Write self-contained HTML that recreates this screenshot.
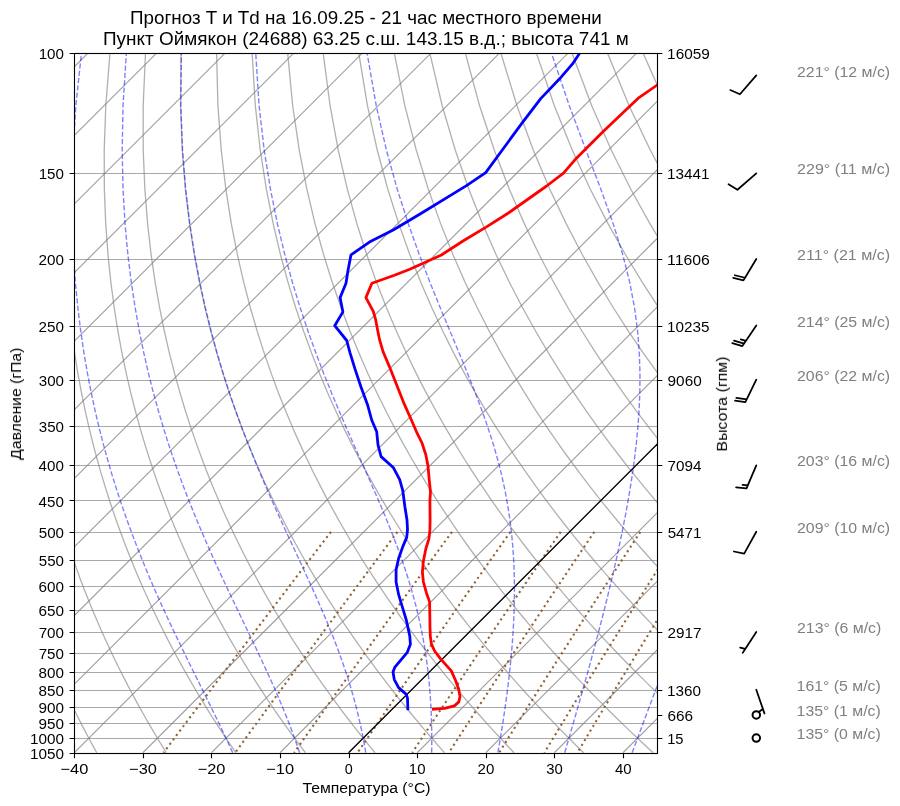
<!DOCTYPE html>
<html lang="ru"><head><meta charset="utf-8"><title>Skew-T</title>
<style>
html,body{margin:0;padding:0;background:#fff;}
body{width:900px;height:806px;overflow:hidden;position:relative;font-family:"Liberation Sans",sans-serif;}
svg text{font-family:"Liberation Sans",sans-serif;}
</style></head><body>
<svg width="900" height="806" viewBox="0 0 900 806" style="position:absolute;left:0;top:0;display:block" font-family="'Liberation Sans', sans-serif">
<rect x="0" y="0" width="900" height="806" fill="#ffffff"/>
<defs><clipPath id="ax"><rect x="74" y="53" width="583" height="700"/></clipPath></defs>
<g clip-path="url(#ax)" fill="none">
<path d="M74.3 53.5H657.3M74.3 173.5H657.3M74.3 259.5H657.3M74.3 326.5H657.3M74.3 380.5H657.3M74.3 426.5H657.3M74.3 465.5H657.3M74.3 500.5H657.3M74.3 532.5H657.3M74.3 560.5H657.3M74.3 586.5H657.3M74.3 610.5H657.3M74.3 632.5H657.3M74.3 653.5H657.3M74.3 672.5H657.3M74.3 690.5H657.3M74.3 707.5H657.3M74.3 723.5H657.3M74.3 738.5H657.3M74.3 753.5H657.3" stroke="#aaaaaa" stroke-width="1.11"/>
<path id="isot" d="M-680.17 752.73L19.83 52.73M-611.58 752.73L88.42 52.73M-542.99 752.73L157.01 52.73M-474.41 752.73L225.59 52.73M-405.82 752.73L294.18 52.73M-337.23 752.73L362.77 52.73M-268.64 752.73L431.36 52.73M-200.05 752.73L499.95 52.73M-131.46 752.73L568.54 52.73M-62.88 752.73L637.12 52.73M5.71 752.73L705.71 52.73M74.3 752.73L774.3 52.73M142.89 752.73L842.89 52.73M211.48 752.73L911.48 52.73M280.06 752.73L980.06 52.73M348.65 752.73L1048.65 52.73M417.24 752.73L1117.24 52.73M485.83 752.73L1185.83 52.73M554.42 752.73L1254.42 52.73M623.01 752.73L1323.01 52.73" stroke="#808080" stroke-width="1.11" stroke-opacity="0.78"/>
<path id="dry" d="M96.75 752.73 L93.68 747.18 L90.61 741.53 L87.52 735.77 L84.43 729.89 L81.32 723.89 L78.2 717.77 L75.08 711.53 L71.94 705.15 L68.8 698.63 L65.65 691.96 L62.49 685.14 L59.32 678.16 L56.15 671.02 L52.97 663.69 L49.79 656.19 L46.61 648.48 L43.42 640.58 L40.24 632.46 L37.06 624.11 L33.88 615.52 L30.71 606.67 L27.55 597.56 L24.4 588.15 L21.26 578.44 L18.15 568.4 L15.06 558.01 L12 547.25 L8.97 536.08 L5.99 524.48 L3.05 512.4 L0.18 499.82 L-2.62 486.67 L-5.34 472.93 L-7.96 458.51 L-10.46 443.37 L-12.81 427.41 L-15 410.54 L-16.99 392.67 L-18.73 373.65 L-20.17 353.33 L-21.26 331.52 L-21.9 307.99 L-21.98 282.44 L-21.36 254.49 L-19.84 223.63 L-17.13 189.21 L-12.83 150.28 L-6.3 105.48 L3.43 52.73M166.3 752.73 L162.87 747.18 L159.42 741.53 L155.95 735.77 L152.47 729.89 L148.97 723.89 L145.46 717.77 L141.93 711.53 L138.39 705.15 L134.83 698.63 L131.26 691.96 L127.67 685.14 L124.07 678.16 L120.45 671.02 L116.83 663.69 L113.19 656.19 L109.54 648.48 L105.88 640.58 L102.21 632.46 L98.53 624.11 L94.85 615.52 L91.16 606.67 L87.47 597.56 L83.79 588.15 L80.1 578.44 L76.42 568.4 L72.75 558.01 L69.1 547.25 L65.46 536.08 L61.85 524.48 L58.28 512.4 L54.74 499.82 L51.26 486.67 L47.83 472.93 L44.48 458.51 L41.23 443.37 L38.09 427.41 L35.08 410.54 L32.24 392.67 L29.61 373.65 L27.23 353.33 L25.16 331.52 L23.49 307.99 L22.31 282.44 L21.75 254.49 L22.02 223.63 L23.37 189.21 L26.19 150.28 L31.07 105.48 L38.96 52.73M235.85 752.73 L232.05 747.18 L228.22 741.53 L224.38 735.77 L220.51 729.89 L216.63 723.89 L212.72 717.77 L208.79 711.53 L204.84 705.15 L200.86 698.63 L196.87 691.96 L192.85 685.14 L188.82 678.16 L184.76 671.02 L180.68 663.69 L176.58 656.19 L172.47 648.48 L168.33 640.58 L164.18 632.46 L160.01 624.11 L155.82 615.52 L151.62 606.67 L147.4 597.56 L143.17 588.15 L138.94 578.44 L134.7 568.4 L130.45 558.01 L126.2 547.25 L121.96 536.08 L117.72 524.48 L113.5 512.4 L109.3 499.82 L105.13 486.67 L101 472.93 L96.93 458.51 L92.91 443.37 L88.98 427.41 L85.16 410.54 L81.47 392.67 L77.95 373.65 L74.64 353.33 L71.59 331.52 L68.88 307.99 L66.59 282.44 L64.87 254.49 L63.88 223.63 L63.87 189.21 L65.2 150.28 L68.44 105.48 L74.48 52.73M305.4 752.73 L301.23 747.18 L297.03 741.53 L292.81 735.77 L288.56 729.89 L284.28 723.89 L279.97 717.77 L275.64 711.53 L271.28 705.15 L266.89 698.63 L262.48 691.96 L258.04 685.14 L253.56 678.16 L249.06 671.02 L244.54 663.69 L239.98 656.19 L235.4 648.48 L230.78 640.58 L226.15 632.46 L221.48 624.11 L216.79 615.52 L212.07 606.67 L207.33 597.56 L202.56 588.15 L197.78 578.44 L192.97 568.4 L188.14 558.01 L183.3 547.25 L178.45 536.08 L173.59 524.48 L168.73 512.4 L163.86 499.82 L159.01 486.67 L154.18 472.93 L149.37 458.51 L144.6 443.37 L139.88 427.41 L135.24 410.54 L130.7 392.67 L126.29 373.65 L122.04 353.33 L118.01 331.52 L114.26 307.99 L110.88 282.44 L107.98 254.49 L105.73 223.63 L104.36 189.21 L104.21 150.28 L105.81 105.48 L110.01 52.73M374.95 752.73 L370.41 747.18 L365.84 741.53 L361.24 735.77 L356.6 729.89 L351.93 723.89 L347.23 717.77 L342.5 711.53 L337.73 705.15 L332.93 698.63 L328.09 691.96 L323.22 685.14 L318.31 678.16 L313.37 671.02 L308.39 663.69 L303.38 656.19 L298.33 648.48 L293.24 640.58 L288.11 632.46 L282.95 624.11 L277.76 615.52 L272.52 606.67 L267.26 597.56 L261.95 588.15 L256.61 578.44 L251.24 568.4 L245.84 558.01 L240.41 547.25 L234.95 536.08 L229.46 524.48 L223.95 512.4 L218.43 499.82 L212.89 486.67 L207.35 472.93 L201.81 458.51 L196.28 443.37 L190.78 427.41 L185.32 410.54 L179.93 392.67 L174.63 373.65 L169.45 353.33 L164.44 331.52 L159.65 307.99 L155.17 282.44 L151.1 254.49 L147.59 223.63 L144.86 189.21 L143.22 150.28 L143.18 105.48 L145.53 52.73M444.5 752.73 L439.59 747.18 L434.65 741.53 L429.66 735.77 L424.64 729.89 L419.58 723.89 L414.49 717.77 L409.35 711.53 L404.17 705.15 L398.96 698.63 L393.7 691.96 L388.4 685.14 L383.06 678.16 L377.67 671.02 L372.24 663.69 L366.77 656.19 L361.25 648.48 L355.69 640.58 L350.08 632.46 L344.43 624.11 L338.73 615.52 L332.98 606.67 L327.18 597.56 L321.34 588.15 L315.45 578.44 L309.52 568.4 L303.54 558.01 L297.51 547.25 L291.44 536.08 L285.33 524.48 L279.18 512.4 L272.99 499.82 L266.77 486.67 L260.52 472.93 L254.25 458.51 L247.97 443.37 L241.68 427.41 L235.41 410.54 L229.16 392.67 L222.97 373.65 L216.85 353.33 L210.86 331.52 L205.04 307.99 L199.46 282.44 L194.22 254.49 L189.45 223.63 L185.36 189.21 L182.23 150.28 L180.55 105.48 L181.06 52.73M514.05 752.73 L508.77 747.18 L503.45 741.53 L498.09 735.77 L492.69 729.89 L487.24 723.89 L481.74 717.77 L476.21 711.53 L470.62 705.15 L464.99 698.63 L459.31 691.96 L453.58 685.14 L447.81 678.16 L441.98 671.02 L436.1 663.69 L430.17 656.19 L424.18 648.48 L418.15 640.58 L412.05 632.46 L405.9 624.11 L399.7 615.52 L393.43 606.67 L387.11 597.56 L380.73 588.15 L374.29 578.44 L367.79 568.4 L361.23 558.01 L354.61 547.25 L347.93 536.08 L341.2 524.48 L334.4 512.4 L327.55 499.82 L320.64 486.67 L313.69 472.93 L306.69 458.51 L299.65 443.37 L292.58 427.41 L285.49 410.54 L278.39 392.67 L271.31 373.65 L264.26 353.33 L257.28 331.52 L250.42 307.99 L243.74 282.44 L237.33 254.49 L231.31 223.63 L225.85 189.21 L221.25 150.28 L217.92 105.48 L216.58 52.73M583.61 752.73 L577.96 747.18 L572.26 741.53 L566.52 735.77 L560.73 729.89 L554.89 723.89 L549 717.77 L543.06 711.53 L537.07 705.15 L531.02 698.63 L524.92 691.96 L518.77 685.14 L512.55 678.16 L506.28 671.02 L499.95 663.69 L493.56 656.19 L487.11 648.48 L480.6 640.58 L474.02 632.46 L467.38 624.11 L460.67 615.52 L453.89 606.67 L447.04 597.56 L440.12 588.15 L433.13 578.44 L426.06 568.4 L418.93 558.01 L411.72 547.25 L404.43 536.08 L397.06 524.48 L389.62 512.4 L382.11 499.82 L374.52 486.67 L366.86 472.93 L359.13 458.51 L351.33 443.37 L343.48 427.41 L335.57 410.54 L327.62 392.67 L319.64 373.65 L311.66 353.33 L303.71 331.52 L295.81 307.99 L288.03 282.44 L280.45 254.49 L273.16 223.63 L266.35 189.21 L260.26 150.28 L255.29 105.48 L252.11 52.73M653.16 752.73 L647.14 747.18 L641.07 741.53 L634.95 735.77 L628.77 729.89 L622.54 723.89 L616.26 717.77 L609.91 711.53 L603.51 705.15 L597.05 698.63 L590.53 691.96 L583.95 685.14 L577.3 678.16 L570.59 671.02 L563.81 663.69 L556.96 656.19 L550.04 648.48 L543.05 640.58 L535.99 632.46 L528.85 624.11 L521.64 615.52 L514.34 606.67 L506.97 597.56 L499.51 588.15 L491.97 578.44 L484.34 568.4 L476.62 558.01 L468.82 547.25 L460.92 536.08 L452.93 524.48 L444.85 512.4 L436.67 499.82 L428.4 486.67 L420.03 472.93 L411.57 458.51 L403.02 443.37 L394.38 427.41 L385.65 410.54 L376.85 392.67 L367.98 373.65 L359.07 353.33 L350.13 331.52 L341.2 307.99 L332.32 282.44 L323.56 254.49 L315.02 223.63 L306.85 189.21 L299.27 150.28 L292.66 105.48 L287.63 52.73M722.71 752.73 L716.32 747.18 L709.88 741.53 L703.37 735.77 L696.81 729.89 L690.19 723.89 L683.51 717.77 L676.77 711.53 L669.96 705.15 L663.08 698.63 L656.14 691.96 L649.13 685.14 L642.05 678.16 L634.89 671.02 L627.66 663.69 L620.36 656.19 L612.97 648.48 L605.51 640.58 L597.96 632.46 L590.32 624.11 L582.6 615.52 L574.79 606.67 L566.89 597.56 L558.9 588.15 L550.8 578.44 L542.61 568.4 L534.32 558.01 L525.92 547.25 L517.42 536.08 L508.8 524.48 L500.07 512.4 L491.23 499.82 L482.28 486.67 L473.2 472.93 L464.01 458.51 L454.7 443.37 L445.27 427.41 L435.73 410.54 L426.08 392.67 L416.32 373.65 L406.48 353.33 L396.55 331.52 L386.59 307.99 L376.61 282.44 L366.68 254.49 L356.88 223.63 L347.34 189.21 L338.28 150.28 L330.03 105.48 L323.16 52.73M792.26 752.73 L785.5 747.18 L778.68 741.53 L771.8 735.77 L764.86 729.89 L757.85 723.89 L750.77 717.77 L743.62 711.53 L736.41 705.15 L729.12 698.63 L721.75 691.96 L714.31 685.14 L706.8 678.16 L699.2 671.02 L691.52 663.69 L683.75 656.19 L675.9 648.48 L667.96 640.58 L659.93 632.46 L651.8 624.11 L643.57 615.52 L635.25 606.67 L626.82 597.56 L618.29 588.15 L609.64 578.44 L600.89 568.4 L592.01 558.01 L583.02 547.25 L573.91 536.08 L564.67 524.48 L555.3 512.4 L545.79 499.82 L536.15 486.67 L526.38 472.93 L516.45 458.51 L506.39 443.37 L496.17 427.41 L485.81 410.54 L475.31 392.67 L464.66 373.65 L453.88 353.33 L442.98 331.52 L431.97 307.99 L420.89 282.44 L409.79 254.49 L398.74 223.63 L387.84 189.21 L377.29 150.28 L367.4 105.48 L358.69 52.73M861.81 752.73 L854.68 747.18 L847.49 741.53 L840.23 735.77 L832.9 729.89 L825.5 723.89 L818.03 717.77 L810.48 711.53 L802.85 705.15 L795.15 698.63 L787.36 691.96 L779.5 685.14 L771.54 678.16 L763.5 671.02 L755.37 663.69 L747.15 656.19 L738.83 648.48 L730.41 640.58 L721.9 632.46 L713.27 624.11 L704.54 615.52 L695.7 606.67 L686.75 597.56 L677.68 588.15 L668.48 578.44 L659.16 568.4 L649.71 558.01 L640.13 547.25 L630.4 536.08 L620.54 524.48 L610.52 512.4 L600.36 499.82 L590.03 486.67 L579.55 472.93 L568.89 458.51 L558.07 443.37 L547.07 427.41 L535.89 410.54 L524.54 392.67 L513 373.65 L501.29 353.33 L489.4 331.52 L477.36 307.99 L465.18 282.44 L452.91 254.49 L440.59 223.63 L428.34 189.21 L416.3 150.28 L404.77 105.48 L394.21 52.73M931.36 752.73 L923.86 747.18 L916.3 741.53 L908.66 735.77 L900.94 729.89 L893.15 723.89 L885.28 717.77 L877.33 711.53 L869.3 705.15 L861.18 698.63 L852.97 691.96 L844.68 685.14 L836.29 678.16 L827.81 671.02 L819.23 663.69 L810.55 656.19 L801.76 648.48 L792.87 640.58 L783.86 632.46 L774.75 624.11 L765.51 615.52 L756.16 606.67 L746.68 597.56 L737.06 588.15 L727.32 578.44 L717.43 568.4 L707.41 558.01 L697.23 547.25 L686.9 536.08 L676.4 524.48 L665.75 512.4 L654.92 499.82 L643.91 486.67 L632.72 472.93 L621.33 458.51 L609.75 443.37 L597.97 427.41 L585.98 410.54 L573.77 392.67 L561.34 373.65 L548.69 353.33 L535.83 331.52 L522.75 307.99 L509.47 282.44 L496.02 254.49 L482.45 223.63 L468.84 189.21 L455.32 150.28 L442.14 105.48 L429.74 52.73M1000.91 752.73 L993.05 747.18 L985.11 741.53 L977.09 735.77 L968.99 729.89 L960.8 723.89 L952.54 717.77 L944.19 711.53 L935.74 705.15 L927.21 698.63 L918.58 691.96 L909.86 685.14 L901.04 678.16 L892.11 671.02 L883.08 663.69 L873.94 656.19 L864.69 648.48 L855.32 640.58 L845.83 632.46 L836.22 624.11 L826.48 615.52 L816.61 606.67 L806.6 597.56 L796.45 588.15 L786.16 578.44 L775.71 568.4 L765.1 558.01 L754.33 547.25 L743.39 536.08 L732.27 524.48 L720.97 512.4 L709.48 499.82 L697.79 486.67 L685.89 472.93 L673.78 458.51 L661.44 443.37 L648.87 427.41 L636.06 410.54 L623 392.67 L609.68 373.65 L596.1 353.33 L582.25 331.52 L568.13 307.99 L553.76 282.44 L539.14 254.49 L524.31 223.63 L509.33 189.21 L494.33 150.28 L479.51 105.48 L465.26 52.73M1070.46 752.73 L1062.23 747.18 L1053.91 741.53 L1045.51 735.77 L1037.03 729.89 L1028.46 723.89 L1019.8 717.77 L1011.04 711.53 L1002.19 705.15 L993.24 698.63 L984.2 691.96 L975.04 685.14 L965.79 678.16 L956.42 671.02 L946.94 663.69 L937.34 656.19 L927.62 648.48 L917.77 640.58 L907.8 632.46 L897.7 624.11 L887.45 615.52 L877.07 606.67 L866.53 597.56 L855.84 588.15 L844.99 578.44 L833.98 568.4 L822.8 558.01 L811.43 547.25 L799.88 536.08 L788.14 524.48 L776.2 512.4 L764.04 499.82 L751.67 486.67 L739.06 472.93 L726.22 458.51 L713.12 443.37 L699.77 427.41 L686.14 410.54 L672.23 392.67 L658.02 373.65 L643.5 353.33 L628.67 331.52 L613.52 307.99 L598.04 282.44 L582.25 254.49 L566.16 223.63 L549.83 189.21 L533.34 150.28 L516.88 105.48 L500.79 52.73M1140.01 752.73 L1131.41 747.18 L1122.72 741.53 L1113.94 735.77 L1105.07 729.89 L1096.11 723.89 L1087.05 717.77 L1077.89 711.53 L1068.64 705.15 L1059.28 698.63 L1049.81 691.96 L1040.23 685.14 L1030.53 678.16 L1020.72 671.02 L1010.79 663.69 L1000.73 656.19 L990.55 648.48 L980.23 640.58 L969.77 632.46 L959.17 624.11 L948.42 615.52 L937.52 606.67 L926.46 597.56 L915.23 588.15 L903.83 578.44 L892.26 568.4 L880.49 558.01 L868.54 547.25 L856.38 536.08 L844.01 524.48 L831.42 512.4 L818.6 499.82 L805.54 486.67 L792.23 472.93 L778.66 458.51 L764.81 443.37 L750.67 427.41 L736.22 410.54 L721.46 392.67 L706.36 373.65 L690.91 353.33 L675.1 331.52 L658.91 307.99 L642.33 282.44 L625.37 254.49 L608.02 223.63 L590.33 189.21 L572.35 150.28 L554.25 105.48 L536.31 52.73M1209.56 752.73 L1200.59 747.18 L1191.53 741.53 L1182.37 735.77 L1173.11 729.89 L1163.76 723.89 L1154.31 717.77 L1144.75 711.53 L1135.08 705.15 L1125.31 698.63 L1115.42 691.96 L1105.41 685.14 L1095.28 678.16 L1085.03 671.02 L1074.65 663.69 L1064.13 656.19 L1053.48 648.48 L1042.68 640.58 L1031.74 632.46 L1020.64 624.11 L1009.39 615.52 L997.97 606.67 L986.39 597.56 L974.62 588.15 L962.67 578.44 L950.53 568.4 L938.19 558.01 L925.64 547.25 L912.87 536.08 L899.88 524.48 L886.65 512.4 L873.16 499.82 L859.42 486.67 L845.4 472.93 L831.1 458.51 L816.49 443.37 L801.56 427.41 L786.3 410.54 L770.68 392.67 L754.7 373.65 L738.31 353.33 L721.52 331.52 L704.29 307.99 L686.62 282.44 L668.48 254.49 L649.88 223.63 L630.82 189.21 L611.36 150.28 L591.62 105.48 L571.84 52.73M1279.12 752.73 L1269.77 747.18 L1260.33 741.53 L1250.8 735.77 L1241.16 729.89 L1231.41 723.89 L1221.56 717.77 L1211.6 711.53 L1201.53 705.15 L1191.34 698.63 L1181.03 691.96 L1170.59 685.14 L1160.03 678.16 L1149.33 671.02 L1138.5 663.69 L1127.53 656.19 L1116.41 648.48 L1105.14 640.58 L1093.71 632.46 L1082.12 624.11 L1070.36 615.52 L1058.43 606.67 L1046.31 597.56 L1034.01 588.15 L1021.51 578.44 L1008.8 568.4 L995.88 558.01 L982.74 547.25 L969.37 536.08 L955.75 524.48 L941.87 512.4 L927.73 499.82 L913.3 486.67 L898.58 472.93 L883.54 458.51 L868.17 443.37 L852.46 427.41 L836.38 410.54 L819.91 392.67 L803.03 373.65 L785.72 353.33 L767.94 331.52 L749.68 307.99 L730.91 282.44 L711.6 254.49 L691.74 223.63 L671.32 189.21 L650.38 150.28 L628.99 105.48 L607.36 52.73M1348.67 752.73 L1338.95 747.18 L1329.14 741.53 L1319.22 735.77 L1309.2 729.89 L1299.07 723.89 L1288.82 717.77 L1278.46 711.53 L1267.98 705.15 L1257.37 698.63 L1246.64 691.96 L1235.77 685.14 L1224.78 678.16 L1213.64 671.02 L1202.35 663.69 L1190.92 656.19 L1179.34 648.48 L1167.59 640.58 L1155.68 632.46 L1143.59 624.11 L1131.33 615.52 L1118.88 606.67 L1106.24 597.56 L1093.4 588.15 L1080.35 578.44 L1067.08 568.4 L1053.58 558.01 L1039.84 547.25 L1025.86 536.08 L1011.61 524.48 L997.09 512.4 L982.29 499.82 L967.18 486.67 L951.75 472.93 L935.98 458.51 L919.86 443.37 L903.36 427.41 L886.46 410.54 L869.14 392.67 L851.37 373.65 L833.12 353.33 L814.37 331.52 L795.07 307.99 L775.19 282.44 L754.71 254.49 L733.59 223.63 L711.82 189.21 L689.39 150.28 L666.36 105.48 L642.89 52.73" stroke="#808080" stroke-width="1.3" stroke-opacity="0.62"/>
<path id="moist" d="M232.7 752.73 L230.17 747.18 L227.55 741.53 L224.85 735.77 L222.07 729.89 L219.19 723.89 L216.23 717.77 L213.19 711.53 L210.06 705.15 L206.84 698.63 L203.55 691.96 L200.17 685.14 L196.7 678.16 L193.17 671.02 L189.55 663.69 L185.86 656.19 L182.11 648.48 L178.28 640.58 L174.39 632.46 L170.44 624.11 L166.44 615.52 L162.38 606.67 L158.27 597.56 L154.12 588.15 L149.93 578.44 L145.71 568.4 L141.46 558.01 L137.19 547.25 L132.9 536.08 L128.6 524.48 L124.3 512.4 L120.01 499.82 L115.73 486.67 L111.48 472.93 L107.28 458.51 L103.13 443.37 L99.05 427.41 L95.07 410.54 L91.22 392.67 L87.52 373.65 L84.02 353.33 L80.78 331.52 L77.87 307.99 L75.37 282.44 L73.41 254.49 L72.17 223.63 L71.89 189.21 L72.93 150.28 L75.84 105.48 L81.52 52.73M299.62 752.73 L297.75 747.18 L295.78 741.53 L293.7 735.77 L291.52 729.89 L289.24 723.89 L286.84 717.77 L284.32 711.53 L281.69 705.15 L278.93 698.63 L276.05 691.96 L273.05 685.14 L269.92 678.16 L266.66 671.02 L263.27 663.69 L259.75 656.19 L256.11 648.48 L252.33 640.58 L248.44 632.46 L244.42 624.11 L240.28 615.52 L236.03 606.67 L231.67 597.56 L227.21 588.15 L222.65 578.44 L218 568.4 L213.26 558.01 L208.45 547.25 L203.57 536.08 L198.63 524.48 L193.64 512.4 L188.61 499.82 L183.55 486.67 L178.47 472.93 L173.39 458.51 L168.32 443.37 L163.28 427.41 L158.29 410.54 L153.37 392.67 L148.56 373.65 L143.89 353.33 L139.41 331.52 L135.19 307.99 L131.3 282.44 L127.86 254.49 L125.03 223.63 L123.03 189.21 L122.2 150.28 L123.03 105.48 L126.39 52.73M365.76 752.73 L364.83 747.18 L363.81 741.53 L362.7 735.77 L361.5 729.89 L360.21 723.89 L358.81 717.77 L357.3 711.53 L355.67 705.15 L353.92 698.63 L352.04 691.96 L350.01 685.14 L347.84 678.16 L345.52 671.02 L343.03 663.69 L340.37 656.19 L337.54 648.48 L334.52 640.58 L331.31 632.46 L327.9 624.11 L324.29 615.52 L320.48 606.67 L316.47 597.56 L312.25 588.15 L307.83 578.44 L303.2 568.4 L298.38 558.01 L293.37 547.25 L288.18 536.08 L282.82 524.48 L277.31 512.4 L271.65 499.82 L265.85 486.67 L259.95 472.93 L253.95 458.51 L247.88 443.37 L241.75 427.41 L235.59 410.54 L229.42 392.67 L223.28 373.65 L217.2 353.33 L211.22 331.52 L205.41 307.99 L199.83 282.44 L194.58 254.49 L189.8 223.63 L185.7 189.21 L182.57 150.28 L180.86 105.48 L181.36 52.73M431.66 752.73 L431.74 747.18 L431.77 741.53 L431.75 735.77 L431.69 729.89 L431.57 723.89 L431.39 717.77 L431.15 711.53 L430.83 705.15 L430.44 698.63 L429.96 691.96 L429.39 685.14 L428.72 678.16 L427.93 671.02 L427.02 663.69 L425.98 656.19 L424.79 648.48 L423.43 640.58 L421.91 632.46 L420.19 624.11 L418.27 615.52 L416.12 606.67 L413.72 597.56 L411.06 588.15 L408.12 578.44 L404.88 568.4 L401.32 558.01 L397.42 547.25 L393.17 536.08 L388.56 524.48 L383.57 512.4 L378.22 499.82 L372.5 486.67 L366.42 472.93 L360 458.51 L353.27 443.37 L346.24 427.41 L338.96 410.54 L331.46 392.67 L323.79 373.65 L316 353.33 L308.13 331.52 L300.25 307.99 L292.44 282.44 L284.77 254.49 L277.39 223.63 L270.45 189.21 L264.21 150.28 L259.07 105.48 L255.71 52.73M497.88 752.73 L498.84 747.18 L499.8 741.53 L500.76 735.77 L501.71 729.89 L502.65 723.89 L503.59 717.77 L504.52 711.53 L505.43 705.15 L506.33 698.63 L507.21 691.96 L508.07 685.14 L508.9 678.16 L509.7 671.02 L510.47 663.69 L511.19 656.19 L511.87 648.48 L512.49 640.58 L513.05 632.46 L513.53 624.11 L513.92 615.52 L514.22 606.67 L514.4 597.56 L514.45 588.15 L514.34 578.44 L514.06 568.4 L513.57 558.01 L512.84 547.25 L511.85 536.08 L510.53 524.48 L508.86 512.4 L506.77 499.82 L504.2 486.67 L501.1 472.93 L497.39 458.51 L493.01 443.37 L487.89 427.41 L481.98 410.54 L475.25 392.67 L467.68 373.65 L459.3 353.33 L450.16 331.52 L440.35 307.99 L430 282.44 L419.25 254.49 L408.27 223.63 L397.25 189.21 L386.44 150.28 L376.2 105.48 L367.06 52.73M564.69 752.73 L566.32 747.18 L567.97 741.53 L569.65 735.77 L571.36 729.89 L573.09 723.89 L574.86 717.77 L576.65 711.53 L578.47 705.15 L580.32 698.63 L582.21 691.96 L584.12 685.14 L586.07 678.16 L588.05 671.02 L590.06 663.69 L592.1 656.19 L594.18 648.48 L596.29 640.58 L598.43 632.46 L600.6 624.11 L602.81 615.52 L605.05 606.67 L607.31 597.56 L609.6 588.15 L611.92 578.44 L614.25 568.4 L616.6 558.01 L618.95 547.25 L621.31 536.08 L623.65 524.48 L625.97 512.4 L628.24 499.82 L630.45 486.67 L632.56 472.93 L634.53 458.51 L636.33 443.37 L637.87 427.41 L639.07 410.54 L639.82 392.67 L639.98 373.65 L639.33 353.33 L637.64 331.52 L634.57 307.99 L629.74 282.44 L622.73 254.49 L613.16 223.63 L600.87 189.21 L586.03 150.28 L569.23 105.48 L551.35 52.73M632.12 752.73 L634.19 747.18 L636.29 741.53 L638.44 735.77 L640.64 729.89 L642.88 723.89 L645.17 717.77 L647.51 711.53 L649.91 705.15 L652.36 698.63 L654.87 691.96 L657.44 685.14 L660.08 678.16 L662.77 671.02 L665.54 663.69 L668.38 656.19 L671.3 648.48 L674.29 640.58 L677.37 632.46 L680.54 624.11 L683.8 615.52 L687.15 606.67 L690.61 597.56 L694.18 588.15 L697.86 578.44 L701.66 568.4 L705.59 558.01 L709.66 547.25 L713.87 536.08 L718.24 524.48 L722.77 512.4 L727.47 499.82 L732.37 486.67 L737.46 472.93 L742.77 458.51 L748.3 443.37 L754.09 427.41 L760.13 410.54 L766.45 392.67 L773.07 373.65 L780 353.33 L787.24 331.52 L794.8 307.99 L802.66 282.44 L810.75 254.49 L818.96 223.63 L827 189.21 L834.33 150.28 L839.82 105.48 L841.04 52.73" stroke="#0000ff" stroke-opacity="0.5" stroke-width="1.39" stroke-dasharray="5.14 2.22"/>
<path id="mix" d="M330.91 531.86 L326.56 537.52 L322.23 543.18 L317.89 548.85 L313.56 554.51 L309.22 560.17 L304.9 565.84 L300.57 571.5 L296.24 577.16 L291.92 582.83 L287.6 588.49 L283.29 594.15 L278.97 599.82 L274.66 605.48 L270.35 611.14 L266.05 616.81 L261.74 622.47 L257.44 628.13 L253.14 633.8 L248.85 639.46 L244.55 645.13 L240.26 650.79 L235.97 656.45 L231.69 662.12 L227.41 667.78 L223.12 673.44 L218.85 679.11 L214.57 684.77 L210.3 690.43 L206.03 696.1 L201.76 701.76 L197.5 707.42 L193.23 713.09 L188.97 718.75 L184.72 724.41 L180.46 730.08 L176.21 735.74 L171.96 741.4 L167.72 747.07 L163.47 752.73M397.42 531.86 L393.2 537.52 L388.99 543.18 L384.78 548.85 L380.57 554.51 L376.37 560.17 L372.17 565.84 L367.97 571.5 L363.77 577.16 L359.58 582.83 L355.39 588.49 L351.2 594.15 L347.02 599.82 L342.84 605.48 L338.66 611.14 L334.48 616.81 L330.31 622.47 L326.14 628.13 L321.98 633.8 L317.81 639.46 L313.65 645.13 L309.49 650.79 L305.34 656.45 L301.19 662.12 L297.04 667.78 L292.89 673.44 L288.75 679.11 L284.61 684.77 L280.47 690.43 L276.34 696.1 L272.21 701.76 L268.08 707.42 L263.96 713.09 L259.83 718.75 L255.72 724.41 L251.6 730.08 L247.49 735.74 L243.38 741.4 L239.27 747.07 L235.17 752.73M451.92 531.86 L447.81 537.52 L443.7 543.18 L439.6 548.85 L435.5 554.51 L431.41 560.17 L427.31 565.84 L423.23 571.5 L419.14 577.16 L415.06 582.83 L410.98 588.49 L406.9 594.15 L402.83 599.82 L398.76 605.48 L394.69 611.14 L390.63 616.81 L386.57 622.47 L382.51 628.13 L378.46 633.8 L374.41 639.46 L370.36 645.13 L366.31 650.79 L362.27 656.45 L358.24 662.12 L354.2 667.78 L350.17 673.44 L346.14 679.11 L342.12 684.77 L338.1 690.43 L334.08 696.1 L330.07 701.76 L326.06 707.42 L322.05 713.09 L318.05 718.75 L314.05 724.41 L310.05 730.08 L306.06 735.74 L302.07 741.4 L298.08 747.07 L294.1 752.73M510.39 531.86 L506.4 537.52 L502.42 543.18 L498.43 548.85 L494.46 554.51 L490.48 560.17 L486.51 565.84 L482.54 571.5 L478.58 577.16 L474.62 582.83 L470.66 588.49 L466.71 594.15 L462.76 599.82 L458.81 605.48 L454.87 611.14 L450.93 616.81 L447 622.47 L443.06 628.13 L439.14 633.8 L435.21 639.46 L431.29 645.13 L427.37 650.79 L423.46 656.45 L419.55 662.12 L415.65 667.78 L411.74 673.44 L407.85 679.11 L403.95 684.77 L400.06 690.43 L396.17 696.1 L392.29 701.76 L388.41 707.42 L384.54 713.09 L380.67 718.75 L376.8 724.41 L372.93 730.08 L369.07 735.74 L365.22 741.4 L361.37 747.07 L357.52 752.73M560.71 531.86 L556.82 537.52 L552.95 543.18 L549.07 548.85 L545.2 554.51 L541.33 560.17 L537.47 565.84 L533.61 571.5 L529.76 577.16 L525.9 582.83 L522.06 588.49 L518.21 594.15 L514.37 599.82 L510.54 605.48 L506.71 611.14 L502.88 616.81 L499.06 622.47 L495.24 628.13 L491.42 633.8 L487.61 639.46 L483.8 645.13 L480 650.79 L476.2 656.45 L472.4 662.12 L468.61 667.78 L464.82 673.44 L461.04 679.11 L457.26 684.77 L453.49 690.43 L449.72 696.1 L445.95 701.76 L442.19 707.42 L438.43 713.09 L434.68 718.75 L430.93 724.41 L427.18 730.08 L423.44 735.74 L419.71 741.4 L415.97 747.07 L412.25 752.73M594.28 531.86 L590.47 537.52 L586.67 543.18 L582.87 548.85 L579.07 554.51 L575.28 560.17 L571.49 565.84 L567.7 571.5 L563.92 577.16 L560.15 582.83 L556.37 588.49 L552.6 594.15 L548.84 599.82 L545.08 605.48 L541.32 611.14 L537.57 616.81 L533.83 622.47 L530.08 628.13 L526.34 633.8 L522.61 639.46 L518.88 645.13 L515.15 650.79 L511.43 656.45 L507.71 662.12 L504 667.78 L500.29 673.44 L496.59 679.11 L492.89 684.77 L489.2 690.43 L485.5 696.1 L481.82 701.76 L478.14 707.42 L474.46 713.09 L470.79 718.75 L467.12 724.41 L463.45 730.08 L459.8 735.74 L456.14 741.4 L452.49 747.07 L448.85 752.73M640.33 531.86 L636.63 537.52 L632.92 543.18 L629.22 548.85 L625.53 554.51 L621.84 560.17 L618.15 565.84 L614.47 571.5 L610.8 577.16 L607.13 582.83 L603.46 588.49 L599.8 594.15 L596.14 599.82 L592.48 605.48 L588.83 611.14 L585.19 616.81 L581.55 622.47 L577.92 628.13 L574.28 633.8 L570.66 639.46 L567.04 645.13 L563.42 650.79 L559.81 656.45 L556.2 662.12 L552.6 667.78 L549 673.44 L545.41 679.11 L541.82 684.77 L538.24 690.43 L534.66 696.1 L531.09 701.76 L527.52 707.42 L523.95 713.09 L520.39 718.75 L516.84 724.41 L513.29 730.08 L509.75 735.74 L506.21 741.4 L502.67 747.07 L499.15 752.73M681.65 531.86 L678.04 537.52 L674.43 543.18 L670.83 548.85 L667.23 554.51 L663.63 560.17 L660.04 565.84 L656.46 571.5 L652.88 577.16 L649.3 582.83 L645.73 588.49 L642.17 594.15 L638.61 599.82 L635.05 605.48 L631.5 611.14 L627.95 616.81 L624.41 622.47 L620.88 628.13 L617.35 633.8 L613.82 639.46 L610.3 645.13 L606.78 650.79 L603.27 656.45 L599.77 662.12 L596.27 667.78 L592.77 673.44 L589.28 679.11 L585.8 684.77 L582.32 690.43 L578.84 696.1 L575.37 701.76 L571.91 707.42 L568.45 713.09 L565 718.75 L561.55 724.41 L558.1 730.08 L554.67 735.74 L551.23 741.4 L547.81 747.07 L544.38 752.73M711.79 531.86 L708.25 537.52 L704.71 543.18 L701.18 548.85 L697.65 554.51 L694.13 560.17 L690.61 565.84 L687.09 571.5 L683.59 577.16 L680.08 582.83 L676.58 588.49 L673.09 594.15 L669.6 599.82 L666.12 605.48 L662.64 611.14 L659.17 616.81 L655.7 622.47 L652.24 628.13 L648.79 633.8 L645.33 639.46 L641.89 645.13 L638.45 650.79 L635.01 656.45 L631.58 662.12 L628.16 667.78 L624.74 673.44 L621.32 679.11 L617.92 684.77 L614.51 690.43 L611.12 696.1 L607.72 701.76 L604.34 707.42 L600.96 713.09 L597.58 718.75 L594.21 724.41 L590.85 730.08 L587.49 735.74 L584.13 741.4 L580.79 747.07 L577.44 752.73" stroke="#8a5a2c" stroke-opacity="0.95" stroke-width="2.08" stroke-dasharray="2.08 3.44"/>
<path d="M348.65 752.73L1048.65 52.73" stroke="#000" stroke-width="1.25"/>
<path id="td" d="M407.9 710.3 L407.5 698.2 L406.3 694.4 L398.6 687.6 L394.3 679.6 L393 672.1 L394.9 667.1 L407.3 652.3 L410.4 644.2 L409.8 636.1 L407.9 627.4 L406.3 620 L402.3 606.8 L398.6 594.4 L396.1 582 L396.1 569.6 L398.6 558.5 L403 546.1 L406.7 537.4 L407.5 529.9 L407 520 L404.9 506.8 L402.8 490.7 L399.7 479.6 L393.5 467.8 L381.1 456.6 L378 444.8 L376.7 431.8 L371.7 420 L367.8 405.6 L361 387 L354.8 368.4 L349.9 352.3 L346.7 340.5 L334.7 325.7 L342.9 311.9 L340.1 297.6 L346 283.3 L347.9 270.9 L351 254.8 L370.9 241.2 L393.2 230 L420.9 213.5 L466.5 185.6 L485.7 172.6 L521.8 123.4 L540.7 98.6 L559.6 78.8 L572.5 63.9 L579.4 53.6 L586 43" stroke="#0000ff" stroke-width="2.78" stroke-linejoin="round"/>
<path id="tt" d="M431.9 709.3 L444.5 708.3 L454.4 705.9 L458.8 701.9 L460 696.9 L458.8 689.5 L455.7 680.8 L451.3 670.9 L440.8 659.1 L434.6 651 L431.5 644.2 L430.3 636.1 L430 627.4 L429.9 620 L429.6 601.9 L426.5 593.2 L423.4 582 L422.4 572.1 L423.4 560.9 L425.9 548.5 L429 538.6 L429.9 529.9 L430.1 520 L429.9 500.6 L430.5 492 L429.2 479.6 L428 465.9 L425.8 454.7 L422 443 L416.5 431.8 L411.4 420 L404.4 404.4 L397 385.8 L389.6 367.1 L383.3 352.3 L379.6 339.9 L377.6 329.9 L375.8 320.4 L373.3 311.3 L365.9 297.6 L371.9 283.3 L394.4 275.3 L409.8 269.3 L441.4 255 L463.8 240.5 L486.1 227.1 L508.4 213 L546.6 186 L563.5 173.1 L576.4 158.2 L603.2 131.4 L639 97.6 L656.8 85.3 L675 73" stroke="#ff0000" stroke-width="2.78" stroke-linejoin="round"/>
</g>
<g stroke="#000" stroke-width="1.11" fill="none">
<rect x="74.5" y="53.5" width="583" height="700" stroke-linejoin="miter"/>
<path d="M74.5 53.5h-4.86M74.5 173.5h-4.86M74.5 259.5h-4.86M74.5 326.5h-4.86M74.5 380.5h-4.86M74.5 426.5h-4.86M74.5 465.5h-4.86M74.5 500.5h-4.86M74.5 532.5h-4.86M74.5 560.5h-4.86M74.5 586.5h-4.86M74.5 610.5h-4.86M74.5 632.5h-4.86M74.5 653.5h-4.86M74.5 672.5h-4.86M74.5 690.5h-4.86M74.5 707.5h-4.86M74.5 723.5h-4.86M74.5 738.5h-4.86M74.5 753.5h-4.86M74.5 753.5v4.86M143.5 753.5v4.86M211.5 753.5v4.86M280.5 753.5v4.86M349.5 753.5v4.86M417.5 753.5v4.86M486.5 753.5v4.86M554.5 753.5v4.86M623.5 753.5v4.86M657.5 53.5h4.86M657.5 173.5h4.86M657.5 259.5h4.86M657.5 326.5h4.86M657.5 380.5h4.86M657.5 465.5h4.86M657.5 532.5h4.86M657.5 632.5h4.86M657.5 690.5h4.86M657.5 715.5h4.86M657.5 738.5h4.86"/>
</g>
<g stroke="#000" stroke-width="1.75" fill="none" stroke-linejoin="round" stroke-linecap="round">
<path d="M756.3 75.4 L739.9 94.27 L730.3 90.07 L739.9 94.27Z"/>
<path d="M756.3 173.34 L737.43 189.74 L728.51 184.24 L737.43 189.74Z"/>
<path d="M756.3 258.98 L743.42 280.41 L733.24 277.94 L743.42 280.41 L745.03 277.73 L734.85 275.26 L745.03 277.73Z"/>
<path d="M756.3 325.41 L742.32 346.13 L732.28 343.13 L742.32 346.13 L744.07 343.54 L734.03 340.54 L744.07 343.54 L745.82 340.95 L740.8 339.45 L745.82 340.95Z"/>
<path d="M756.3 379.68 L745.34 402.15 L734.98 400.58 L745.34 402.15 L746.71 399.35 L736.35 397.77 L746.71 399.35Z"/>
<path d="M756.3 465.33 L746.53 488.34 L736.11 487.31 L746.53 488.34 L747.75 485.46 L742.54 484.95 L747.75 485.46Z"/>
<path d="M756.3 531.76 L744.18 553.62 L733.92 551.51 L744.18 553.62Z"/>
<path d="M756.3 631.92 L742.68 652.89 L745.24 648.96 L740.19 647.55 L745.24 648.96Z"/>
<path d="M756.3 689.72 L764.44 713.36 L762.91 708.93 L758.69 712.03 L762.91 708.93Z"/>
<circle cx="756.3" cy="714.9" r="3.75" stroke-width="2.0"/>
<circle cx="756.3" cy="738.11" r="3.75" stroke-width="2.0"/>
</g>
<g id="labels" opacity="0.999">
<text x="129.95" y="23.8" font-size="17.65" fill="#000" textLength="471.87" lengthAdjust="spacingAndGlyphs">Прогноз T и Td на 16.09.25 - 21 час местного времени</text>
<text x="103.02" y="45" font-size="17.65" fill="#000" textLength="525.73" lengthAdjust="spacingAndGlyphs">Пункт Оймякон (24688) 63.25 с.ш. 143.15 в.д.; высота 741 м</text>
<text x="38.66" y="58.78" font-size="14.7" fill="#000" textLength="25.33" lengthAdjust="spacingAndGlyphs">100</text>
<text x="38.66" y="179.49" font-size="14.7" fill="#000" textLength="25.33" lengthAdjust="spacingAndGlyphs">150</text>
<text x="38.55" y="265.13" font-size="14.7" fill="#000" textLength="25.44" lengthAdjust="spacingAndGlyphs">200</text>
<text x="38.55" y="331.56" font-size="14.7" fill="#000" textLength="25.44" lengthAdjust="spacingAndGlyphs">250</text>
<text x="38.79" y="385.83" font-size="14.7" fill="#000" textLength="25.2" lengthAdjust="spacingAndGlyphs">300</text>
<text x="38.79" y="431.73" font-size="14.7" fill="#000" textLength="25.2" lengthAdjust="spacingAndGlyphs">350</text>
<text x="38.64" y="471.48" font-size="14.7" fill="#000" textLength="25.35" lengthAdjust="spacingAndGlyphs">400</text>
<text x="38.64" y="506.54" font-size="14.7" fill="#000" textLength="25.35" lengthAdjust="spacingAndGlyphs">450</text>
<text x="38.77" y="537.91" font-size="14.7" fill="#000" textLength="25.22" lengthAdjust="spacingAndGlyphs">500</text>
<text x="38.77" y="566.28" font-size="14.7" fill="#000" textLength="25.22" lengthAdjust="spacingAndGlyphs">550</text>
<text x="38.5" y="592.18" font-size="14.7" fill="#000" textLength="25.5" lengthAdjust="spacingAndGlyphs">600</text>
<text x="38.5" y="616.01" font-size="14.7" fill="#000" textLength="25.5" lengthAdjust="spacingAndGlyphs">650</text>
<text x="38.66" y="638.07" font-size="14.7" fill="#000" textLength="25.33" lengthAdjust="spacingAndGlyphs">700</text>
<text x="38.66" y="658.61" font-size="14.7" fill="#000" textLength="25.33" lengthAdjust="spacingAndGlyphs">750</text>
<text x="38.59" y="677.83" font-size="14.7" fill="#000" textLength="25.41" lengthAdjust="spacingAndGlyphs">800</text>
<text x="38.59" y="695.87" font-size="14.7" fill="#000" textLength="25.41" lengthAdjust="spacingAndGlyphs">850</text>
<text x="38.46" y="712.89" font-size="14.7" fill="#000" textLength="25.53" lengthAdjust="spacingAndGlyphs">900</text>
<text x="38.46" y="728.99" font-size="14.7" fill="#000" textLength="25.53" lengthAdjust="spacingAndGlyphs">950</text>
<text x="30" y="744.26" font-size="14.7" fill="#000" textLength="34" lengthAdjust="spacingAndGlyphs">1000</text>
<text x="30" y="758.78" font-size="14.7" fill="#000" textLength="34" lengthAdjust="spacingAndGlyphs">1050</text>
<text x="667.13" y="58.78" font-size="14.7" fill="#000" textLength="42.75" lengthAdjust="spacingAndGlyphs">16059</text>
<text x="667.14" y="179.49" font-size="14.7" fill="#000" textLength="42.46" lengthAdjust="spacingAndGlyphs">13441</text>
<text x="667.13" y="265.13" font-size="14.7" fill="#000" textLength="42.79" lengthAdjust="spacingAndGlyphs">11606</text>
<text x="667.14" y="331.56" font-size="14.7" fill="#000" textLength="42.42" lengthAdjust="spacingAndGlyphs">10235</text>
<text x="667.58" y="385.83" font-size="14.7" fill="#000" textLength="34.2" lengthAdjust="spacingAndGlyphs">9060</text>
<text x="667.52" y="471.48" font-size="14.7" fill="#000" textLength="33.99" lengthAdjust="spacingAndGlyphs">7094</text>
<text x="667.69" y="537.91" font-size="14.7" fill="#000" textLength="33.68" lengthAdjust="spacingAndGlyphs">5471</text>
<text x="667.53" y="638.07" font-size="14.7" fill="#000" textLength="34.02" lengthAdjust="spacingAndGlyphs">2917</text>
<text x="667.14" y="695.87" font-size="14.7" fill="#000" textLength="34" lengthAdjust="spacingAndGlyphs">1360</text>
<text x="667.52" y="721.05" font-size="14.7" fill="#000" textLength="25.63" lengthAdjust="spacingAndGlyphs">666</text>
<text x="667.18" y="744.26" font-size="14.7" fill="#000" textLength="16.37" lengthAdjust="spacingAndGlyphs">15</text>
<text x="60.5" y="774" font-size="14.7" fill="#000" textLength="27.83" lengthAdjust="spacingAndGlyphs">−40</text>
<text x="129.09" y="774" font-size="14.7" fill="#000" textLength="27.83" lengthAdjust="spacingAndGlyphs">−30</text>
<text x="197.68" y="774" font-size="14.7" fill="#000" textLength="27.83" lengthAdjust="spacingAndGlyphs">−20</text>
<text x="266.27" y="774" font-size="14.7" fill="#000" textLength="27.83" lengthAdjust="spacingAndGlyphs">−10</text>
<text x="344.86" y="774" font-size="14.7" fill="#000" textLength="7.98" lengthAdjust="spacingAndGlyphs">0</text>
<text x="408.84" y="774" font-size="14.7" fill="#000" textLength="16.64" lengthAdjust="spacingAndGlyphs">10</text>
<text x="477.56" y="774" font-size="14.7" fill="#000" textLength="16.77" lengthAdjust="spacingAndGlyphs">20</text>
<text x="546.36" y="774" font-size="14.7" fill="#000" textLength="16.53" lengthAdjust="spacingAndGlyphs">30</text>
<text x="614.99" y="774" font-size="14.7" fill="#000" textLength="16.68" lengthAdjust="spacingAndGlyphs">40</text>
<text x="302.43" y="792.7" font-size="14.7" fill="#000" textLength="128.16" lengthAdjust="spacingAndGlyphs">Температура (°C)</text>
<text x="-55.74" y="0" font-size="14.7" fill="#000" textLength="112.34" lengthAdjust="spacingAndGlyphs" transform="translate(21 404.2) rotate(-90)">Давление (гПа)</text>
<text x="-47.69" y="0" font-size="14.7" fill="#000" textLength="95.06" lengthAdjust="spacingAndGlyphs" transform="translate(726.9 403.8) rotate(-90)">Высота (гпм)</text>
<text x="797" y="76.55" font-size="14.7" fill="#808080" textLength="93.16" lengthAdjust="spacingAndGlyphs">221° (12 м/с)</text>
<text x="797" y="174.49" font-size="14.7" fill="#808080" textLength="93.16" lengthAdjust="spacingAndGlyphs">229° (11 м/с)</text>
<text x="797" y="260.13" font-size="14.7" fill="#808080" textLength="93.16" lengthAdjust="spacingAndGlyphs">211° (21 м/с)</text>
<text x="797" y="326.56" font-size="14.7" fill="#808080" textLength="93.16" lengthAdjust="spacingAndGlyphs">214° (25 м/с)</text>
<text x="797" y="380.83" font-size="14.7" fill="#808080" textLength="93.16" lengthAdjust="spacingAndGlyphs">206° (22 м/с)</text>
<text x="797" y="466.48" font-size="14.7" fill="#808080" textLength="93.16" lengthAdjust="spacingAndGlyphs">203° (16 м/с)</text>
<text x="797" y="532.91" font-size="14.7" fill="#808080" textLength="93.16" lengthAdjust="spacingAndGlyphs">209° (10 м/с)</text>
<text x="797" y="633.07" font-size="14.7" fill="#808080" textLength="84.32" lengthAdjust="spacingAndGlyphs">213° (6 м/с)</text>
<text x="796.59" y="690.87" font-size="14.7" fill="#808080" textLength="84.22" lengthAdjust="spacingAndGlyphs">161° (5 м/с)</text>
<text x="796.59" y="716.05" font-size="14.7" fill="#808080" textLength="84.22" lengthAdjust="spacingAndGlyphs">135° (1 м/с)</text>
<text x="796.59" y="739.26" font-size="14.7" fill="#808080" textLength="84.22" lengthAdjust="spacingAndGlyphs">135° (0 м/с)</text>
</g>
</svg>
</body></html>
